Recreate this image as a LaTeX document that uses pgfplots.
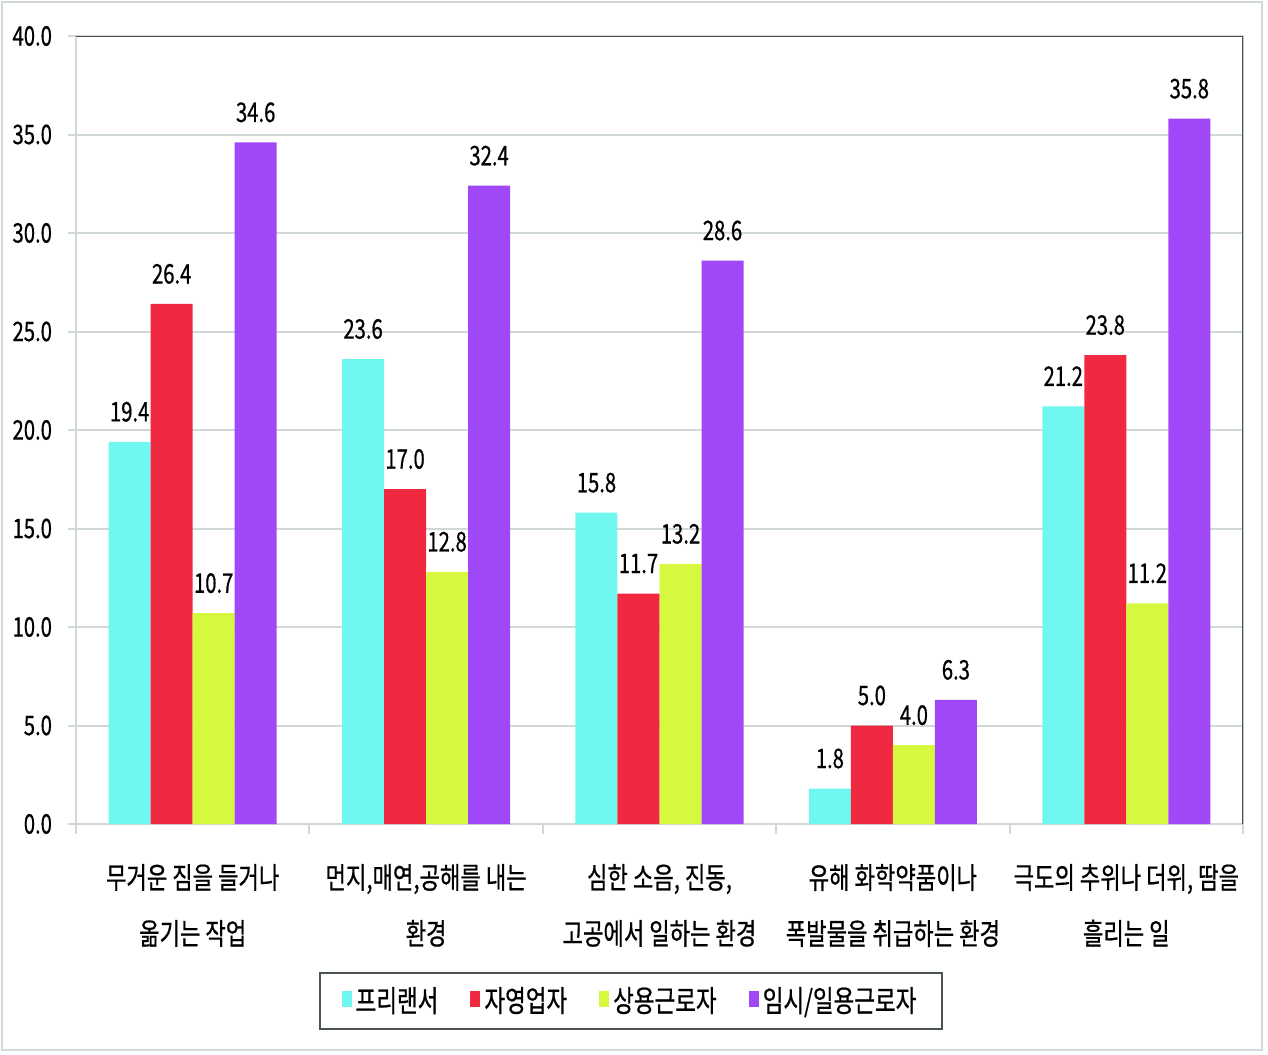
\documentclass[border=0pt]{standalone}
\usepackage{fontspec}
\setmainfont{Noto Sans CJK KR}[FakeStretch=0.75, FakeBold=0.6]
\usepackage{pgfplots}
\pgfplotsset{compat=1.18}
\definecolor{cFree}{HTML}{70F8F0}
\definecolor{cSelf}{HTML}{F02840}
\definecolor{cReg}{HTML}{D6F83E}
\definecolor{cTemp}{HTML}{A048F8}
\definecolor{gridc}{HTML}{D0D8D8}
\definecolor{frame}{HTML}{4A5252}
\begin{document}
\begin{tikzpicture}
\begin{axis}[
  scale only axis, width=583.5pt, height=394pt,
  ybar=0pt, bar width=0.18,
  xmin=-0.5, xmax=4.5, ymin=0, ymax=40,
  ytick={0,5,...,40},
  xtick={0,...,4},
  xticklabels={{무거운 짐을 들거나\\옮기는 작업},{먼지,매연,공해를 내는\\환경},{심한 소음, 진동,\\고공에서 일하는 환경},{유해 화학약품이나\\폭발물을 취급하는 환경},{극도의 추위나 더위, 땀을\\흘리는 일}},
  minor xtick={-0.5,0.5,...,4.5},
  major x tick style={draw=none},
  minor x tick style={gridc, line width=1pt},
  y tick style={gridc, line width=1pt},
  tick align=outside, tick pos=left,
  minor tick length=5pt, major tick length=4pt,
  ymajorgrids, grid style={gridc, line width=1pt},
  axis line style={gridc, line width=1pt},
  xticklabel style={align=center, font=\fontsize{14.8}{28}\selectfont, yshift=-12.5pt},
  yticklabel style={font=\fontsize{13.5}{16}\selectfont, xshift=-4.5pt, /pgf/number format/.cd, fixed, fixed zerofill, precision=1, assume math mode=true},
  nodes near coords,
  every node near coord/.append style={font=\fontsize{13.5}{15}\selectfont, yshift=6.5pt, black, /pgf/number format/.cd, fixed, fixed zerofill, precision=1, assume math mode=true},
  legend style={at={(0.4756,0)}, anchor=north, yshift=-74pt, draw=frame, line width=1pt, font=\fontsize{15}{17}\selectfont, legend columns=4, inner xsep=11pt, inner ysep=5pt, /tikz/every even column/.append style={column sep=14pt}},
  legend image code/.code={\fill[#1] (0pt,-3pt) rectangle (5pt,5pt);},
]
\addplot[fill=cFree, draw=none] coordinates {(0,19.4) (1,23.6) (2,15.8) (3,1.8) (4,21.2)};
\addplot[fill=cSelf, draw=none] coordinates {(0,26.4) (1,17.0) (2,11.7) (3,5.0) (4,23.8)};
\addplot[fill=cReg, draw=none] coordinates {(0,10.7) (1,12.8) (2,13.2) (3,4.0) (4,11.2)};
\addplot[fill=cTemp, draw=none] coordinates {(0,34.6) (1,32.4) (2,28.6) (3,6.3) (4,35.8)};
\legend{프리랜서,자영업자,상용근로자,임시/일용근로자}
\draw[frame, line width=1pt] (rel axis cs:0,1) -- (rel axis cs:1,1) -- (rel axis cs:1,0);
\end{axis}
\draw[gridc, line width=1pt] (-37pt,-113pt) rectangle (593pt,411pt);
\pgfresetboundingbox
\path (-38pt,-115pt) rectangle (596pt,412pt);
\end{tikzpicture}
\end{document}
